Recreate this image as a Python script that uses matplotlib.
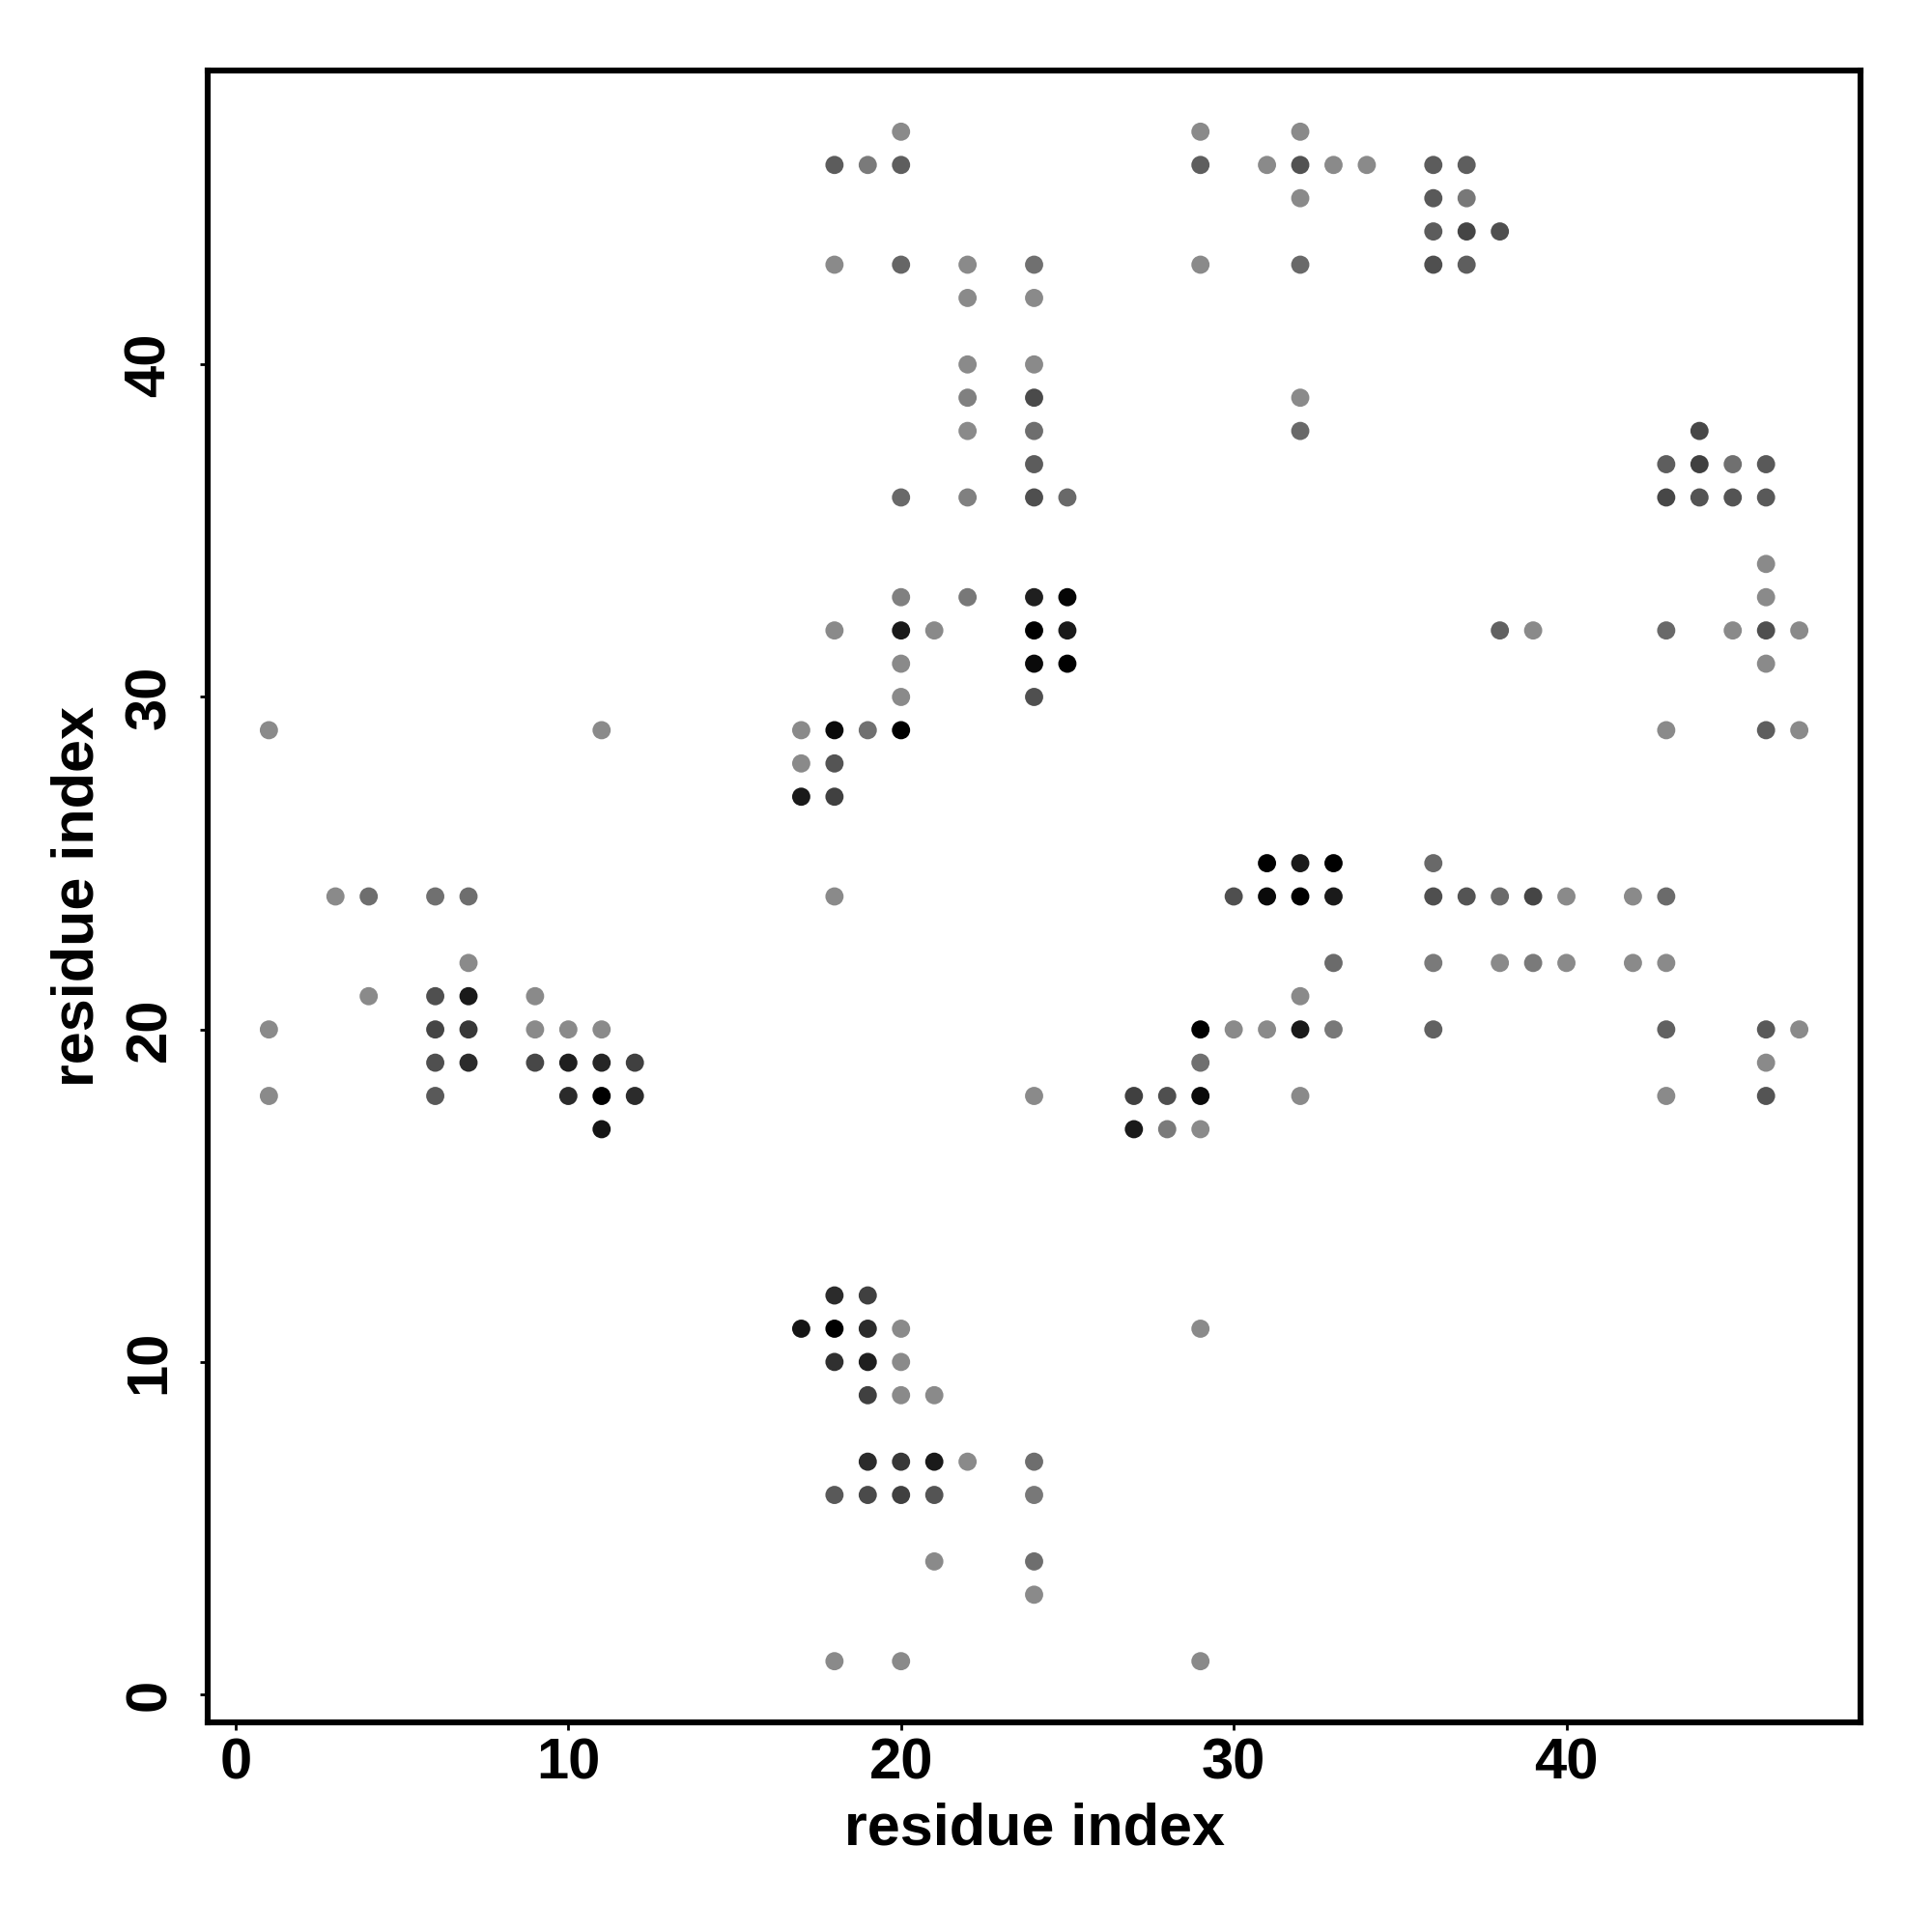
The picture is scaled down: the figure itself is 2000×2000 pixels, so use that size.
import matplotlib
matplotlib.use("Agg")
import matplotlib.pyplot as plt
import numpy as np

# contact map: residue pairs and grey level of each dot (0 = black, 0.54 = light grey)
res_i = [20, 29, 32,
         18, 19, 20, 29, 31, 32, 33, 34, 36, 37,
         32, 36, 37,
         36, 37, 38,
         18, 20, 22, 24, 29, 32, 36, 37,
         22, 24,
         22, 24,
         22, 24, 32,
         22, 24, 32, 44,
         24, 43, 44, 45, 46,
         20, 22, 24, 25, 43, 44, 45, 46,
         46,
         20, 22, 24, 25, 46,
         18, 20, 21, 24, 25, 38, 39, 43, 45, 46, 47,
         20, 24, 25, 46,
         20, 24,
         1, 11, 17, 18, 19, 20, 43, 46, 47,
         17, 18,
         17, 18,
         31, 32, 33, 36,
         3, 4, 6, 7, 18, 30, 31, 32, 33, 36, 37, 38, 39, 40, 42, 43,
         7, 33, 36, 38, 39, 40, 42, 43,
         4, 6, 7, 9, 32,
         1, 6, 7, 9, 10, 11, 29, 30, 31, 32, 33, 36, 43, 46, 47,
         6, 7, 9, 10, 11, 12, 29, 46,
         1, 6, 10, 11, 12, 24, 27, 28, 29, 32, 43, 46,
         11, 27, 28, 29,
         18, 19,
         17, 18, 19, 20, 29,
         18, 19, 20,
         19, 20, 21,
         19, 20, 21, 22, 24,
         18, 19, 20, 21, 24,
         21, 24,
         24,
         18, 20, 29]

res_j = [47] * 3 + [46] * 10 + [45] * 3 + [44] * 3 + [43] * 8 + [42] * 2 \
    + [40] * 2 + [39] * 3 + [38] * 4 + [37] * 5 + [36] * 8 + [34] * 1 \
    + [33] * 5 + [32] * 11 + [31] * 4 + [30] * 2 + [29] * 9 + [28] * 2 \
    + [27] * 2 + [25] * 4 + [24] * 16 + [22] * 8 + [21] * 5 + [20] * 15 \
    + [19] * 8 + [18] * 12 + [17] * 4 + [12] * 2 + [11] * 5 + [10] * 3 \
    + [9] * 3 + [7] * 5 + [6] * 5 + [4] * 2 + [3] * 1 + [1] * 3

grey = [0.54, 0.54, 0.54,
        0.36, 0.48, 0.37, 0.37, 0.54, 0.32, 0.54, 0.54, 0.36, 0.37,
        0.54, 0.35, 0.47,
        0.36, 0.27, 0.31,
        0.54, 0.40, 0.54, 0.44, 0.54, 0.41, 0.31, 0.37,
        0.54, 0.54,
        0.54, 0.54,
        0.50, 0.29, 0.54,
        0.54, 0.43, 0.41, 0.28,
        0.36, 0.37, 0.25, 0.44, 0.35,
        0.41, 0.50, 0.31, 0.41, 0.28, 0.33, 0.33, 0.35,
        0.54,
        0.50, 0.47, 0.12, 0.02,
        0.54,
        0.54, 0.10, 0.54, 0.00, 0.10, 0.38, 0.54, 0.41, 0.54, 0.31, 0.54,
        0.54, 0.04, 0.00, 0.54,
        0.54, 0.31,
        0.54, 0.54, 0.54, 0.04, 0.44, 0.00, 0.54, 0.37, 0.54,
        0.54, 0.33,
        0.10, 0.25,
        0.00, 0.10, 0.00, 0.41,
        0.54, 0.43, 0.44, 0.43, 0.54, 0.31, 0.04, 0.00, 0.10, 0.31, 0.33, 0.42, 0.27, 0.54, 0.54, 0.42,
        0.54, 0.42, 0.48, 0.54, 0.48, 0.54, 0.54, 0.54,
        0.54, 0.31, 0.10, 0.54, 0.54,
        0.54, 0.27, 0.22, 0.54, 0.54, 0.54, 0.00, 0.54, 0.54, 0.10, 0.47, 0.38, 0.38, 0.35, 0.54,
        0.31, 0.17, 0.28, 0.12, 0.15, 0.25, 0.44, 0.54,
        0.54, 0.35, 0.17, 0.00, 0.17, 0.54, 0.25, 0.31, 0.04, 0.54, 0.54, 0.33,
        0.08, 0.10, 0.48, 0.54,
        0.17, 0.25,
        0.08, 0.00, 0.17, 0.54, 0.54,
        0.19, 0.12, 0.54,
        0.25, 0.54, 0.54,
        0.17, 0.22, 0.10, 0.54, 0.43,
        0.35, 0.29, 0.25, 0.33, 0.47,
        0.54, 0.43,
        0.54,
        0.54, 0.54, 0.54]

x_ticks = [0, 10, 20, 30, 40]
y_ticks = [0, 10, 20, 30, 40]

plt.rcParams['font.family'] = ['Liberation Sans', 'DejaVu Sans']
plt.rcParams['font.weight'] = 'bold'

fig = plt.figure(figsize=(10, 10), dpi=200)
ax = fig.add_axes([0.1075, 0.1085, 0.8555, 0.855])

colors = [str(g) for g in grey]
ax.scatter(res_i, res_j, s=46, c=colors, linewidths=0, zorder=3)

# R-style 4% padding around data range 1..47
ax.set_xlim(1 - 0.04 * 46, 47 + 0.04 * 46)
ax.set_ylim(1 - 0.04 * 46, 47 + 0.04 * 46)

for sp in ax.spines.values():
    sp.set_linewidth(2.2)

ax.set_xticks(x_ticks)
ax.set_yticks(y_ticks)
ax.tick_params(axis='both', length=3, width=1.0, labelsize=21.5, pad=2.5)
ax.tick_params(axis='y', labelrotation=90, pad=8.5)
for lab in ax.get_yticklabels():
    lab.set_va('center')
    lab.set_fontweight('bold')
for lab in ax.get_xticklabels():
    lab.set_fontweight('bold')

ax.set_xlabel("residue index", fontsize=22, fontweight='bold', labelpad=4.5)
ax.set_ylabel("residue index", fontsize=22, fontweight='bold', labelpad=6.5)

fig.savefig("out.png", dpi=200)
